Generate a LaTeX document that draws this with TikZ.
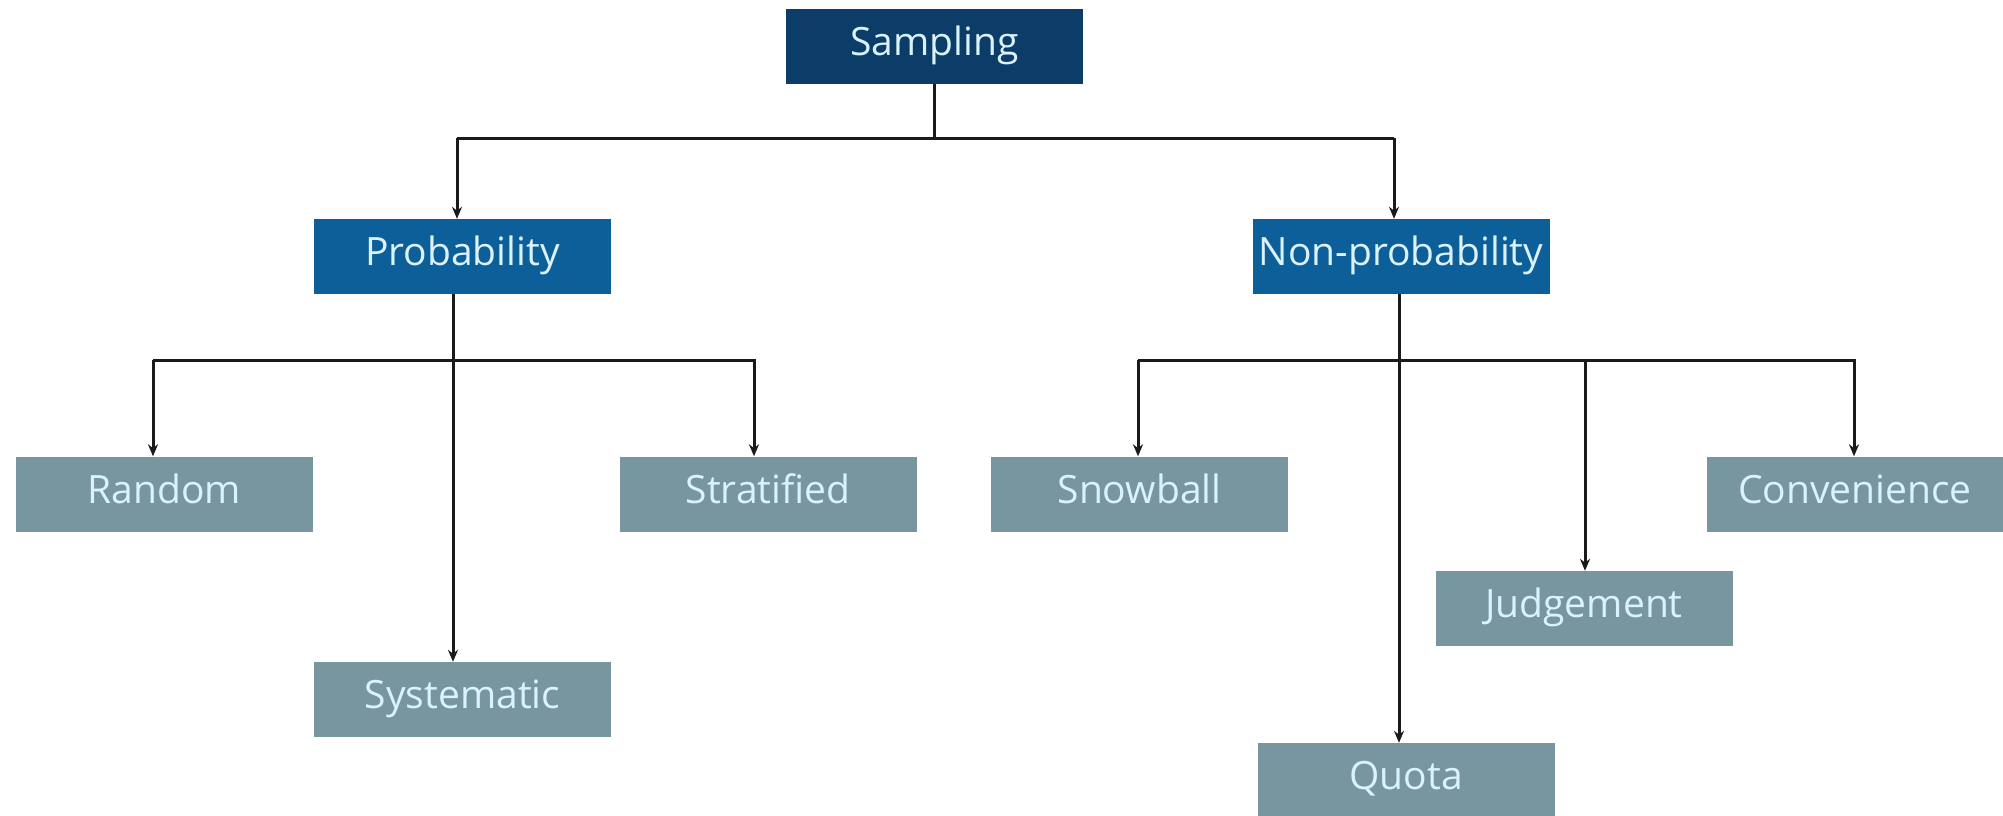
\documentclass[tikz,border=0pt]{standalone}
\usepackage{fontspec}
\setmainfont{Open Sans}
\usetikzlibrary{arrows.meta,calc}
\definecolor{topc}{HTML}{0C3D69}
\definecolor{midc}{HTML}{0D5F99}
\definecolor{leafc}{HTML}{7896A0}
\definecolor{txtc}{HTML}{DAF2FB}
\definecolor{linec}{HTML}{1A1A1A}
\tikzset{
  box/.style={minimum width=297pt, minimum height=75pt, inner sep=0pt,
    text=txtc, font=\fontsize{39}{47}\selectfont, text height=29pt, text depth=11pt},
  topbox/.style={box, fill=topc},
  midbox/.style={box, fill=midc},
  leafbox/.style={box, fill=leafc},
  conn/.style={draw=linec, line width=3pt},
  arr/.style={conn, -{Stealth[length=12pt,width=10pt]}},
}
\begin{document}
\begin{tikzpicture}[x=1pt,y=-1pt]
\useasboundingbox (0,0) rectangle (2003,815);
\clip (0,0) rectangle (2003,815);
\fill[white] (0,0) rectangle (2003,815);
% nodes
\node[topbox]  (S)  at (934.5,46.5) {Sampling};
\node[midbox]  (P)  at (462.5,256.5) {Probability};
\node[midbox]  (N)  at (1401,256.5) {Non-probability};
\node[leafbox] (R)  at (164.5,494) {Random};
\node[leafbox] (Sy) at (462.5,699.5) {Systematic};
\node[leafbox] (St) at (768,494) {Stratified};
\node[leafbox] (Sn) at (1139.5,494) {Snowball};
\node[leafbox] (Q)  at (1406,780.5) {Quota};
\node[leafbox] (J)  at (1584,608.5) {Judgement};
\node[leafbox] (C)  at (1855,494) {Convenience};
% junction coordinates
\coordinate (hL) at (457,138);
\coordinate (hR) at (1394,138);
\coordinate (pL) at (153,360);
\coordinate (pR) at (754,360);
\coordinate (pS) at (453,360);
\coordinate (nL) at (1138,360);
\coordinate (nR) at (1854,360);
\coordinate (nS) at (1399,360);
\coordinate (nJ) at (1585,360);
% top level
\draw[conn] (S.south) -- (S.south |- hL);
\draw[conn] (hL) -- (hR);
\draw[arr] (hL) -- (hL |- P.north);
\draw[arr] (hR) -- (hR |- N.north);
% probability branch
\draw[arr] (pS |- P.south) -- (pS |- Sy.north);
\draw[arr] (pL) -- (pR) -- (pR |- St.north);
\draw[arr] (pL) -- (pL |- R.north);
% non-probability branch
\draw[arr] (nS |- N.south) -- (nS |- Q.north);
\draw[arr] (nL) -- (nR) -- (nR |- C.north);
\draw[arr] (nL) -- (nL |- Sn.north);
\draw[arr] (nJ) -- (nJ |- J.north);
\end{tikzpicture}
\end{document}
